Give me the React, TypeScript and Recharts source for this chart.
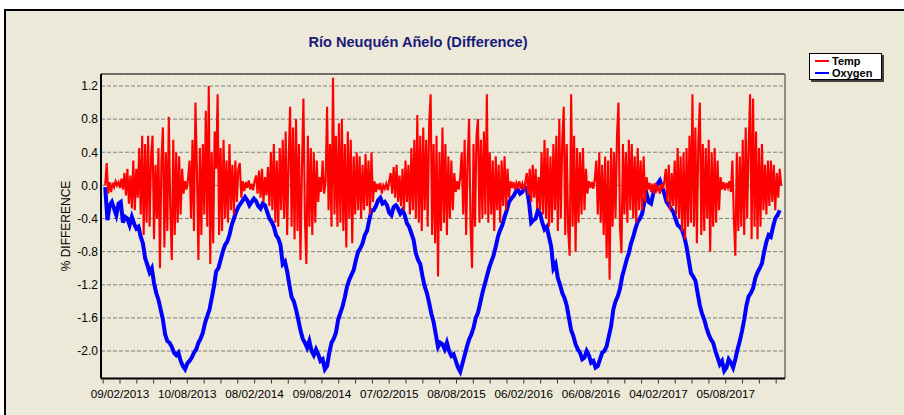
import { CartesianGrid, Line, LineChart, ReferenceLine, XAxis, YAxis } from "recharts";

// Rio Neuquen Anelo – difference series.
// x = days since 09/02/2013; Temp sampled every 4 days, Oxygen every 6 days.
const tempStart = -40;
const tempStep = 4;
const tempValues = [
  0.0, 0.27, -0.1, 0.04, -0.08, 0.03, -0.02, 0.05, 0.0, 0.04,
  -0.03, 0.08, -0.05, 0.15, -0.12, 0.2, -0.22, 0.12, -0.28, 0.3,
  -0.3, 0.2, -0.15, 0.45, -0.35, 0.6, -0.6, 0.5, -0.45, 0.6,
  -0.5, 0.35, 0.6, -0.65, 0.25, -0.4, 0.45, -1.0, 0.3, 0.7,
  -0.75, 0.4, -0.55, 0.83, -0.3, -0.9, 0.55, -0.6, 0.4, -0.45,
  0.35, -0.35, 0.2, -0.1, 0.05, -0.05, 0.08, 0.3, -0.4, 0.55,
  -0.55, 1.0, 0.2, -0.9, 0.45, -0.6, 0.5, -0.35, 0.9, -0.5,
  1.2, -0.95, 0.4, -0.7, 0.65, 0.2, 1.1, -0.6, 0.45, -0.55,
  0.55, -0.4, 0.3, -0.45, 0.5, -0.3, 0.25, -0.35, 0.3, -0.2,
  0.2, 0.27, -0.15, 0.05, -0.07, 0.04, -0.03, 0.06, -0.05, 0.02,
  -0.06, 0.05, 0.12, -0.1, 0.18, -0.15, 0.2, -0.2, 0.1, -0.12,
  0.22, -0.25, 0.4, -0.3, 0.5, -0.45, 0.3, -0.5, 0.45, -0.3,
  0.55, -0.4, 0.65, -0.6, 0.3, 0.95, -0.5, 0.7, -0.65, 0.8,
  -0.55, 0.5, -0.9, 0.2, 1.05, -0.4, -0.95, 0.6, -0.5, 0.45,
  -0.6, 0.4, -0.45, 0.3, -0.2, 0.1, -0.08, 0.3, -0.1, 0.05,
  0.95, -0.3, 0.5, -0.5, 1.3, -0.35, 0.6, -0.5, 0.75, -0.45,
  0.8, -0.55, 0.5, -0.75, 0.65, -0.4, 0.55, -0.7, 0.35, -0.35,
  0.4, -0.3, 0.35, -0.4, 0.25, -0.3, 0.38, -0.25, 0.3, -0.35,
  0.4, -0.2, 0.05, -0.08, 0.02, -0.05, 0.03, -0.1, 0.0, -0.04,
  0.02, -0.06, 0.05, 0.15, -0.1, 0.22, -0.15, 0.25, -0.2, 0.12,
  -0.25, 0.2, -0.3, 0.3, -0.2, 0.25, -0.35, 0.45, -0.3, 0.55,
  -0.4, 0.85, -0.45, 0.6, -0.55, 0.7, -0.3, 0.55, -0.5, 0.75,
  1.1, -0.6, 0.5, -0.7, 0.6, -1.1, 0.4, -0.55, 0.7, -0.45,
  0.5, -0.6, 0.35, -0.4, 0.3, -0.3, 0.15, -0.08, 0.05, -0.05,
  0.1, 0.4, -0.35, 0.55, -0.6, 0.3, 0.8, -0.5, -1.0, 0.5,
  -0.5, 0.6, 0.8, -0.45, 0.55, -0.4, 0.65, -0.35, 1.1, -0.45,
  0.4, -0.35, 0.3, -0.55, 0.35, -0.3, 0.25, -0.45, 0.3, -0.25,
  0.35, -0.3, 0.2, -0.15, 0.05, -0.03, 0.04, -0.05, 0.03, -0.02,
  0.05, -0.04, 0.02, -0.06, 0.04, 0.15, -0.12, 0.2, -0.2, 0.25,
  -0.15, 0.2, -0.28, 0.1, -0.3, 0.4, -0.35, 0.55, -0.4, 0.45,
  -0.5, 0.35, -0.45, 0.5, -0.3, 0.6, -0.55, 0.8, -0.4, 0.55,
  0.95, -0.6, 0.5, -0.55, -0.85, 1.1, -0.5, 0.6, -0.8, 0.45,
  -0.45, 0.4, -0.35, 0.45, -0.3, 0.2, -0.1, 0.05, -0.03, 0.04,
  -0.04, 0.08, 0.3, -0.35, 0.4, -0.45, 0.25, -0.6, 0.35, -0.88,
  0.3, -1.14, 0.45, -0.5, 0.4, -0.4, 0.6, 1.0, -0.5, -0.82,
  0.5, -0.35, 0.4, -0.45, 0.55, -0.3, 0.5, -0.4, 0.35, -0.45,
  0.45, -0.3, 0.3, -0.3, 0.35, -0.2, 0.1, -0.05, 0.03, -0.08,
  0.02, -0.1, 0.03, -0.06, -0.02, -0.1, 0.02, -0.04, 0.05, 0.2,
  -0.2, 0.25, -0.3, 0.15, -0.25, 0.3, -0.35, 0.45, -0.4, 0.35,
  -0.55, 0.4, -0.65, 0.45, -0.5, 0.6, -0.45, 1.1, -0.5, 0.7,
  -0.7, 0.55, 1.0, -0.6, 0.5, -0.55, 0.45, -0.4, 0.55, -0.8,
  0.4, -0.5, 0.45, -0.45, 0.3, -0.3, 0.1, -0.05, 0.04, -0.06,
  0.03, -0.03, 0.05, -0.08, 0.3, -0.4, -0.85, 0.4, -0.55, 0.35,
  -0.5, 0.55, -0.6, 0.7, -0.4, 0.5, 1.1, -0.65, 1.05, -0.5,
  0.65, -0.65, 0.45, -0.5, 0.5, -0.3, 0.25, -0.35, 0.3, -0.25,
  0.3, -0.2, 0.25, -0.3, 0.15, -0.15, 0.2, 0.0,
];

const oxygenStart = -40;
const oxygenStep = 6;
const oxygenValues = [
  -0.02, -0.42, -0.24, -0.2, -0.28, -0.36, -0.22, -0.2, -0.45, -0.38,
  -0.4, -0.48, -0.38, -0.46, -0.52, -0.5, -0.62, -0.7, -0.88, -0.96,
  -1.05, -1.0, -1.18, -1.3, -1.38, -1.5, -1.62, -1.8, -1.88, -1.9,
  -1.95, -2.02, -2.05, -2.02, -2.12, -2.18, -2.22, -2.15, -2.12, -2.08,
  -2.02, -1.98, -1.9, -1.85, -1.78, -1.66, -1.58, -1.5, -1.36, -1.22,
  -1.04, -1.0, -0.9, -0.8, -0.72, -0.68, -0.6, -0.48, -0.4, -0.32,
  -0.26, -0.22, -0.18, -0.14, -0.18, -0.24, -0.2, -0.16, -0.19, -0.25,
  -0.28, -0.22, -0.24, -0.32, -0.4, -0.44, -0.5, -0.6, -0.64, -0.72,
  -0.95, -0.92, -1.04, -1.2, -1.35, -1.4, -1.5, -1.62, -1.75, -1.85,
  -1.9, -1.96, -1.88, -2.0, -2.05, -1.98, -2.04, -2.12, -2.1, -2.22,
  -2.18, -2.02, -1.9, -1.85, -1.78, -1.62, -1.54, -1.46, -1.35, -1.22,
  -1.14, -1.08, -1.02, -0.9, -0.8, -0.76, -0.7, -0.6, -0.55, -0.42,
  -0.3, -0.3, -0.25, -0.18, -0.15, -0.22, -0.2, -0.24, -0.33, -0.36,
  -0.26, -0.24, -0.28, -0.34, -0.3, -0.36, -0.46, -0.5, -0.58, -0.66,
  -0.82, -0.9, -0.95, -1.1, -1.22, -1.3, -1.42, -1.55, -1.65, -1.8,
  -1.95, -1.9, -1.92, -1.98, -1.9, -2.0, -2.06, -2.04, -2.12, -2.2,
  -2.25, -2.15, -2.05, -1.95, -1.86, -1.8, -1.72, -1.6, -1.54, -1.42,
  -1.3, -1.2, -1.1, -1.0, -0.92, -0.85, -0.74, -0.62, -0.54, -0.48,
  -0.38, -0.3, -0.2, -0.16, -0.13, -0.08, -0.05, -0.1, -0.08, -0.02,
  -0.04, -0.2, -0.45, -0.42, -0.4, -0.3, -0.34, -0.45, -0.53, -0.5,
  -0.62, -0.74, -1.0, -0.95, -1.12, -1.2, -1.3, -1.36, -1.45, -1.6,
  -1.75, -1.82, -1.92, -1.98, -2.02, -2.1, -2.08, -2.0, -2.05, -2.14,
  -2.12, -2.2, -2.18, -2.1, -2.02, -2.0, -1.94, -1.82, -1.7, -1.5,
  -1.4, -1.34, -1.25, -1.1, -1.0, -0.9, -0.82, -0.7, -0.62, -0.52,
  -0.44, -0.4, -0.34, -0.2, -0.1, -0.2, -0.22, -0.1, -0.02, 0.02,
  0.06, -0.02, -0.1, -0.2, -0.24, -0.28, -0.32, -0.4, -0.48, -0.5,
  -0.54, -0.62, -0.74, -0.9, -1.06, -1.1, -1.15, -1.3, -1.45, -1.55,
  -1.62, -1.72, -1.8, -1.86, -1.9, -2.0, -2.08, -2.16, -2.12, -2.24,
  -2.2, -2.1, -2.14, -2.2, -2.1, -1.98, -1.88, -1.76, -1.62, -1.45,
  -1.34, -1.3, -1.24, -1.12, -1.05, -1.0, -0.94, -0.8, -0.68, -0.6,
  -0.62, -0.5, -0.4, -0.36, -0.3,
];

const xLabelDays = [0, 182, 364, 546, 728, 910, 1092, 1274, 1456, 1638];
const xLabels = [
  "09/02/2013", "10/08/2013", "08/02/2014", "09/08/2014", "07/02/2015",
  "08/08/2015", "06/02/2016", "06/08/2016", "04/02/2017", "05/08/2017",
];
const xMinorTicks = [
  -45.5, 0, 45.5, 91, 136.5, 182, 227.5, 273, 318.5, 364, 409.5, 455, 500.5, 546,
  591.5, 637, 682.5, 728, 773.5, 819, 864.5, 910, 955.5, 1001, 1046.5, 1092,
  1137.5, 1183, 1228.5, 1274, 1319.5, 1365, 1410.5, 1456, 1501.5, 1547, 1592.5,
  1638, 1683.5, 1729, 1774.5,
];
const yTicks = [1.2, 0.8, 0.4, 0, -0.4, -0.8, -1.2, -1.6, -2.0];

const X_DOMAIN: [number, number] = [-51.4, 1798.3];
const Y_DOMAIN: [number, number] = [-2.332, 1.345];

const tempData = tempValues.map((v, i) => ({ day: tempStart + tempStep * i, temp: v }));
const oxygenData = oxygenValues.map((v, i) => ({ day: oxygenStart + oxygenStep * i, oxygen: v }));

const FONT = "'Liberation Sans', Arial, sans-serif";
const BG = "#ECE9D8";

function XTick({ x, y, payload }: any) {
  const idx = xLabelDays.indexOf(payload.value);
  return (
    <g>
      <line x1={x} x2={x} y1={y + 1} y2={y + 5} stroke="#333" strokeWidth={1} />
      {idx >= 0 && (
        <text x={x} y={y + 19} textAnchor="middle" fontSize={11.7} fontFamily={FONT} fill="#000">
          {xLabels[idx]}
        </text>
      )}
    </g>
  );
}

function LegendBox() {
  const rows = [
    { name: "Temp", color: "#FF0000" },
    { name: "Oxygen", color: "#0000FF" },
  ];
  return (
    <div
      style={{
        position: "absolute",
        left: 809,
        top: 53,
        width: 73,
        height: 27,
        background: "#fff",
        border: "1px solid #000",
        boxShadow: "2px 2px 0 #404040",
        boxSizing: "border-box",
        fontFamily: FONT,
        fontWeight: "bold",
        fontSize: 11,
        paddingTop: 1,
      }}
    >
      {rows.map((r) => (
        <div key={r.name} style={{ display: "flex", alignItems: "center", height: 12 }}>
          <span style={{ display: "inline-block", width: 14, height: 2, background: r.color, marginLeft: 5, marginRight: 3 }} />
          <span style={{ color: "#000", lineHeight: "12px" }}>{r.name}</span>
        </div>
      ))}
    </div>
  );
}

export default function App() {
  return (
    <div style={{ position: "absolute", left: 0, top: 0, width: 904, height: 415, background: "#fff", overflow: "hidden" }}>
      <div
        style={{
          position: "absolute",
          left: 4,
          top: 9,
          width: 920,
          height: 420,
          background: BG,
          borderLeft: "2px solid #000",
          borderTop: "2px solid #000",
        }}
      />
      <div
        style={{
          position: "absolute",
          left: 0,
          top: 34,
          width: 836,
          textAlign: "center",
          fontFamily: FONT,
          fontWeight: "bold",
          fontSize: 14.6,
          color: "#1A1A7A",
        }}
      >
        Río Neuquén Añelo (Difference)
      </div>
      <div style={{ position: "absolute", left: 0, top: 0 }}>
        <LineChart width={904} height={415} margin={{ top: 74, right: 119, bottom: 6.5, left: 0 }}>
          <CartesianGrid vertical={false} stroke="#808080" strokeDasharray="4 2" />
          <XAxis
            type="number"
            dataKey="day"
            domain={X_DOMAIN}
            ticks={xMinorTicks}
            interval={0}
            allowDataOverflow
            height={30}
            tickSize={0}
            tickMargin={0}
            tickLine={false}
            axisLine={{ stroke: "#000", strokeWidth: 2 }}
            tick={<XTick />}
          />
          <YAxis
            type="number"
            domain={Y_DOMAIN}
            ticks={yTicks}
            interval={0}
            allowDataOverflow
            width={101}
            tickSize={0}
            tickMargin={3}
            tickLine={false}
            axisLine={{ stroke: "#000", strokeWidth: 2 }}
            tickFormatter={(v: number) => v.toFixed(1)}
            tick={{ fill: "#000", fontSize: 12, fontFamily: FONT }}
            label={{
              content: () => (
                <text
                  x={66}
                  y={226}
                  transform="rotate(-90 66 226)"
                  textAnchor="middle"
                  dominantBaseline="central"
                  fontSize={12}
                  fontFamily={FONT}
                  fill="#000"
                >
                  % DIFFERENCE
                </text>
              ),
            }}
          />
          <ReferenceLine y={Y_DOMAIN[1]} stroke="#505050" strokeWidth={1.5} />
          <ReferenceLine x={X_DOMAIN[1]} stroke="#707070" strokeWidth={1.5} />
          <Line
            data={oxygenData}
            dataKey="oxygen"
            name="Oxygen"
            type="linear"
            stroke="#0000FF"
            strokeWidth={4}
            dot={false}
            isAnimationActive={false}
          />
          <Line
            data={tempData}
            dataKey="temp"
            name="Temp"
            type="linear"
            stroke="#FF0000"
            strokeWidth={2.1}
            dot={false}
            isAnimationActive={false}
          />
        </LineChart>
      </div>
      <LegendBox />
    </div>
  );
}
